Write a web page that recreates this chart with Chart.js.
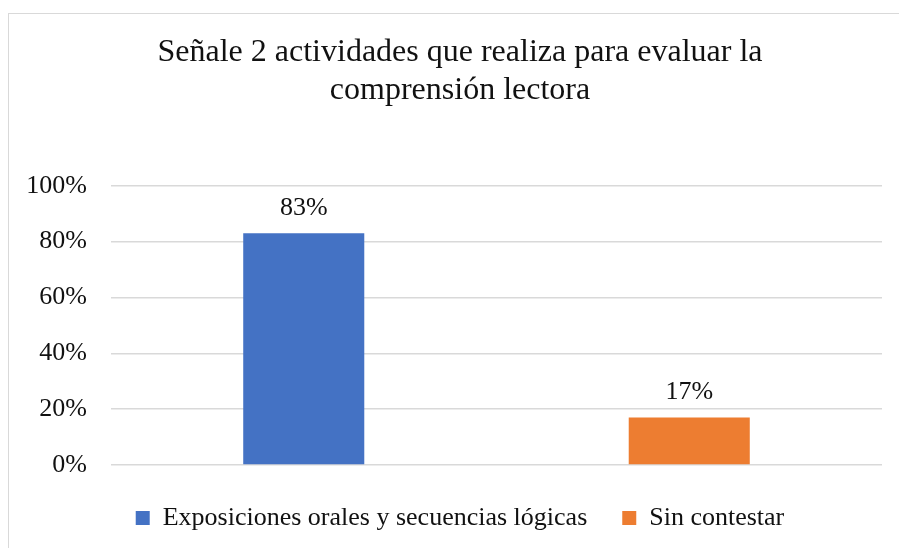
<!DOCTYPE html>
<html>
<head>
<meta charset="utf-8">
<script src="https://cdn.jsdelivr.net/npm/chart.js@4"></script>
<style>
  html, body { margin: 0; padding: 0; background: #fff; overflow: hidden; }
  #frame { position: absolute; left: 8px; top: 13px; border: 1px solid #d9d9d9; }
  #wrap { position: relative; width: 912px; height: 560px; }
</style>
</head>
<body>
<div id="frame"><div id="wrap"><canvas id="chart"></canvas></div></div>
<script>
// Chart values
const categories = ['Exposiciones orales y secuencias lógicas', 'Sin contestar'];
const seriesNames = ['Exposiciones orales y secuencias lógicas', 'Sin contestar'];
const exposicionesValues = [83, null];
const sinContestarValues = [null, 17];
const yTicks = [0, 20, 40, 60, 80, 100];
const titleLines = ['Señale 2 actividades que realiza para evaluar la', 'comprensión lectora'];

const FONT = "'Liberation Serif', 'Times New Roman', serif";

// Draws the value labels above each bar
const barLabels = {
    id: 'barLabels',
    afterDatasetsDraw(chart) {
        const ctx = chart.ctx;
        ctx.save();
        ctx.font = '26px ' + FONT;
        ctx.fillStyle = '#111';
        ctx.textAlign = 'center';
        ctx.textBaseline = 'middle';
        chart.data.datasets.forEach((ds, i) => {
            chart.getDatasetMeta(i).data.forEach((bar, j) => {
                const v = ds.data[j];
                if (v === null || v === undefined) return;
                ctx.fillText(v + '%', bar.x, bar.y - 25);
            });
        });
        ctx.restore();
    }
};

const ctx = document.getElementById('chart').getContext('2d');
const chart = new Chart(ctx, {
    type: 'bar',
    data: {
        labels: categories,
        datasets: [{
            label: seriesNames[0],
            data: exposicionesValues,
            backgroundColor: '#4472C4'
        }, {
            label: seriesNames[1],
            data: sinContestarValues,
            backgroundColor: '#ED7D31'
        }]
    },
    options: {
        responsive: true,
        maintainAspectRatio: false,
        animation: false,
        grouped: false,
        categoryPercentage: 1,
        barPercentage: 0.314,
        layout: {
            padding: { left: 0, right: 10, top: 0, bottom: 33 }
        },
        plugins: {
            title: {
                display: true,
                text: titleLines,
                color: '#111',
                font: { family: FONT, size: 32, weight: 'normal', lineHeight: 1.2 },
                padding: { top: 19, bottom: 76 }
            },
            legend: {
                position: 'bottom',
                labels: {
                    color: '#111',
                    font: { family: FONT, size: 26 },
                    boxWidth: 14,
                    boxHeight: 14,
                    padding: 35
                }
            },
            tooltip: { enabled: false }
        },
        scales: {
            x: {
                ticks: { display: false },
                grid: { display: false },
                border: { display: false },
                afterFit: s => { s.height = 5; }
            },
            y: {
                min: 0,
                max: 100,
                afterBuildTicks: s => { s.ticks = yTicks.map(v => ({ value: v })); },
                afterFit: s => { s.width = 102; },
                ticks: {
                    color: '#111',
                    font: { family: FONT, size: 26 },
                    padding: 24,
                    callback: v => v + '%'
                },
                grid: { color: '#d9d9d9', lineWidth: 1.5, drawTicks: false },
                border: { display: false }
            },
            // empty space on the right so title and legend sit centred like the original
            spacer: {
                position: 'right',
                ticks: { display: false },
                grid: { display: false },
                border: { display: false },
                afterFit: s => { s.width = 29; }
            }
        }
    },
    plugins: [barLabels]
});
</script>
</body>
</html>
